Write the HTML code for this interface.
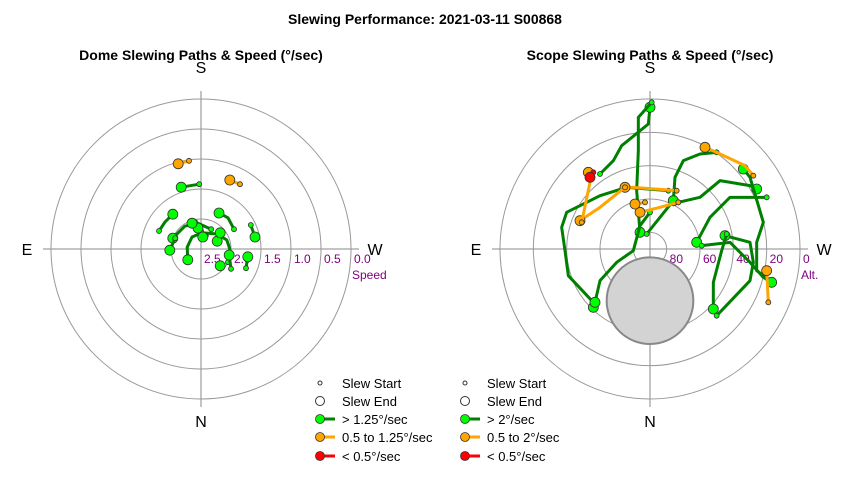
<!DOCTYPE html>
<html><head><meta charset="utf-8"><style>
body{margin:0;background:#fff;}
svg{display:block;font-family:"Liberation Sans",Arial,sans-serif;}
</style></head><body>
<svg id="c" width="850" height="480" viewBox="0 0 850 480">
<text x="425" y="24" text-anchor="middle" font-size="14" font-weight="bold">Slewing Performance: 2021-03-11 S00868</text>
<text x="201" y="60" text-anchor="middle" font-size="14" font-weight="bold">Dome Slewing Paths &amp; Speed (°/sec)</text>
<text x="650" y="60" text-anchor="middle" font-size="14" font-weight="bold">Scope Slewing Paths &amp; Speed (°/sec)</text>
<g id="dome"></g>
<g id="scope"></g>
<g id="legends"></g>
</svg>
<script>
// Dome: points as [westOffset, southOffset] in radial speed units (r = 2.5 - speed)
const domeRingLabels = ["2.5","2.0","1.5","1.0","0.5","0.0"];
const domeGreen = [
 [[-0.03,1.08],[-0.33,1.03]],
 [[0.55,0.33],[0.45,0.52],[0.3,0.6]],
 [[-0.7,0.3],[-0.6,0.45],[-0.47,0.58]],
 [[0.83,0.4],[0.9,0.2]],
 [[0.45,-0.22],[0.48,0],[0.43,0.15],[0.27,0.25],[0.02,0.27],[-0.15,0.2],[-0.23,0.03],[-0.22,-0.18]],
 [[0.17,0.33],[-0.05,0.43],[-0.27,0.38],[-0.47,0.18]],
 [[-0.43,0.18],[-0.52,-0.02]],
 [[0.75,-0.32],[0.78,-0.13]],
 [[0.33,-0.32],[0.32,-0.28]],
 [[0.0,0.3],[-0.05,0.35]],
 [[0.08,0.22],[0.03,0.2]],
 [[0.3,0.18],[0.27,0.13]],
 [[0.35,0.3],[0.32,0.27]],
 [[-0.1,0.45],[-0.15,0.43]],
 [[0.5,-0.33],[0.47,-0.1]]
];
const domeOrange = [
 [[-0.2,1.47],[-0.38,1.42]],
 [[0.65,1.08],[0.48,1.15]]
];
// Scope: points as [westOffset, southOffset] in degrees of zenith distance
const scopeRingLabels = ["80","60","40","20","0"];
const scopeGreen = [
 [[-30,45],[-22,53],[-17,62],[-1,75],[0,85]],
 [[1,88],[-7,79],[-7,59],[-8,35],[-6,10]],
 [[-2,9],[6,19],[14,29]],
 [[11,35],[-14,37],[-30,32],[-50,22],[-53,13],[-51,-1],[-49,-16],[-34,-32],[-34,-35]],
 [[0,22],[-6,14],[-10,-1],[-20,-8],[-30,-19],[-33,-32]],
 [[40,58],[30,57],[20,53],[15,43],[14,29]],
 [[70,31],[48,31],[36,19],[28,4]],
 [[17,28],[30,31],[42,41],[60,38],[64,36]],
 [[74,-20],[64,-13],[64,4],[68,16],[60,43],[56,48]],
 [[31,2],[48,4],[60,-8],[68,-17],[73,-20]],
 [[40,-40],[60,-19],[62,-8],[60,4],[45,8]],
 [[46,9],[43,-1],[38,-20],[38,-36]]
];
const scopeOrange = [
 [[62,44],[57,50],[40,58],[33,61]],
 [[17,28],[6,25],[-6,22]],
 [[16,35],[-10,37],[-15,37]],
 [[-15,37],[-30,25],[-42,17]],
 [[-41,16],[-36,40],[-37,46]],
 [[71,-32],[70,-13]],
 [[-3,28],[-9,27]]
];
const scopeRed = [[[-34,46],[-36,43]]];
const moonPos = [0,-31]; const moonRadius = 26;

const NS="http://www.w3.org/2000/svg";
function mk(p,t,a){const e=document.createElementNS(NS,t);for(const k in a)e.setAttribute(k,a[k]);p.appendChild(e);return e;}
const COL={g:"#008000",o:"#FFA500",r:"#FF0000"},FILL={g:"#00FF00",o:"#FFA500",r:"#FF0000"};

function plot(g,cx,cy,scale,ringVals,ringLabels,radName,paths){
  const sx=v=>cx+v*scale, sy=v=>cy-v*scale;
  const R=150;
  [-1,1].forEach(()=>{});
  let l=mk(g,"line",{x1:cx-R-8,y1:cy,x2:cx+R+8,y2:cy,stroke:"#888","stroke-width":1});
  
  l=mk(g,"line",{x1:cx,y1:cy-R-8,x2:cx,y2:cy+R+8,stroke:"#888","stroke-width":1});
  
  ringVals.forEach(rv=>{if(rv>0){const c=mk(g,"circle",{cx:cx,cy:cy,r:rv*scale,fill:"none",stroke:"#999","stroke-width":1});
    }});
  ringLabels.forEach((t,i)=>{const e=mk(g,"text",{x:cx+ringVals[i]*scale+3,y:cy+14,"font-size":12,fill:"#800080"});e.textContent=t;
    });
  const rn=mk(g,"text",{x:cx+R+1,y:cy+30,"font-size":12,fill:"#800080"});rn.textContent=radName;
  
  [["S",cx,cy-R-26],["N",cx,cy+R+28],["E",cx-R-24,cy+6],["W",cx+R+24,cy+6]].forEach(d=>{
    const e=mk(g,"text",{x:d[1],y:d[2],"text-anchor":"middle","font-size":16});e.textContent=d[0];
    });
  return {sx,sy};
}
function drawPaths(g,sx,sy,list,k){
  list.forEach(p=>{
    const pl=mk(g,"polyline",{points:p.map(q=>sx(q[0])+","+sy(q[1])).join(" "),fill:"none",stroke:COL[k],"stroke-width":3,"stroke-linejoin":"round"});
    
    const s=p[0],e=p[p.length-1];
    const c1=mk(g,"circle",{cx:sx(s[0]),cy:sy(s[1]),r:2.5,fill:FILL[k],stroke:"#333","stroke-width":0.8});
    
    const c2=mk(g,"circle",{cx:sx(e[0]),cy:sy(e[1]),r:5,fill:FILL[k],stroke:"#333","stroke-width":0.8});
    
  });
}
const dome=document.getElementById("dome");
const d=plot(dome,201,249,60,[0,0.5,1,1.5,2,2.5],domeRingLabels,"Speed");
drawPaths(dome,d.sx,d.sy,domeGreen,"g");drawPaths(dome,d.sx,d.sy,domeOrange,"o");

const scope=document.getElementById("scope");
const s=plot(scope,650,249,150/90,[10,30,50,70,90],scopeRingLabels,"Alt.");
const moon=mk(scope,"circle",{cx:s.sx(moonPos[0]),cy:s.sy(moonPos[1]),r:moonRadius*150/90,fill:"#d3d3d3",stroke:"#888","stroke-width":2});

drawPaths(scope,s.sx,s.sy,scopeGreen,"g");drawPaths(scope,s.sx,s.sy,scopeOrange,"o");drawPaths(scope,s.sx,s.sy,scopeRed,"r");

const lg=document.getElementById("legends");
function legend(x,labels){
  const ys=[383,401,419,437,456];
  labels.forEach((t,i)=>{
    const y=ys[i];
    if(i<2){const c=mk(lg,"circle",{cx:x,cy:y,r:i?4.5:2,fill:"#fff",stroke:"#333","stroke-width":1});
      }
    else{const k=["g","o","r"][i-2];
      const ln=mk(lg,"line",{x1:x,y1:y,x2:x+15,y2:y,stroke:COL[k],"stroke-width":3});
      
      const c=mk(lg,"circle",{cx:x,cy:y,r:4.5,fill:FILL[k],stroke:"#333","stroke-width":0.8});
      }
    const tx=mk(lg,"text",{x:x+22,y:y+5,"font-size":13});tx.textContent=t;
    
  });
}
legend(320,["Slew Start","Slew End","> 1.25°/sec","0.5 to 1.25°/sec","< 0.5°/sec"]);
legend(465,["Slew Start","Slew End","> 2°/sec","0.5 to 2°/sec","< 0.5°/sec"]);
</script>
</body></html>
